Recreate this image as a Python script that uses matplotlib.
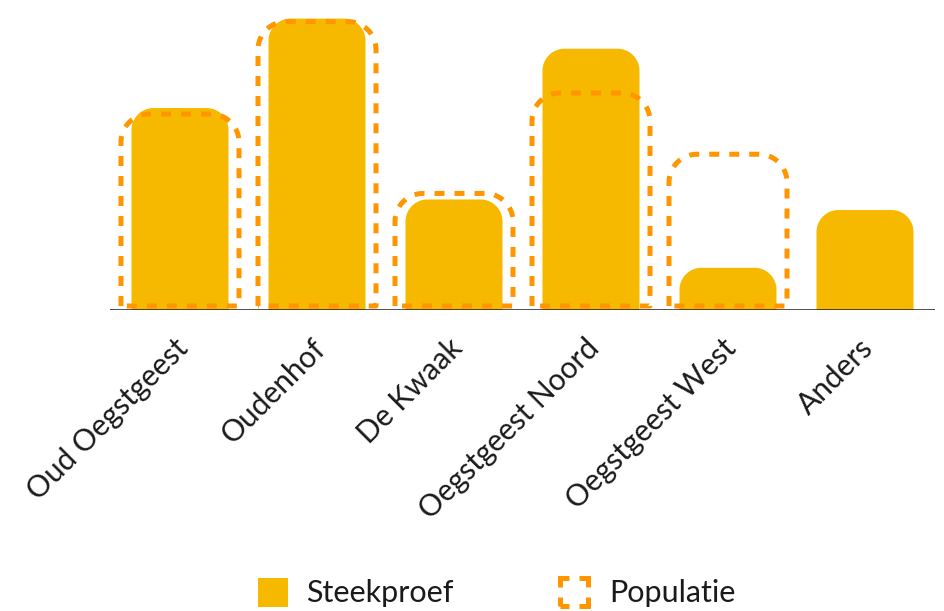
import numpy as np
import matplotlib
matplotlib.use('Agg')
import matplotlib.pyplot as plt
from matplotlib.patches import Polygon, Rectangle

# -------------------------------
# Data (percentages)
# -------------------------------
categories = ['Oud Oegstgeest', 'Oudenhof', 'De Kwaak',
              'Oegstgeest Noord', 'Oegstgeest West', 'Anders']
steekproef = [20.1, 29.0, 11.0, 26.0, 4.2, 9.95]
populatie = [19.5, 28.7, 11.6, 21.6, 15.5, 0]

FILL = '#F7B900'
DASH = '#FF9600'

plt.rcParams['font.family'] = ['Lato', 'DejaVu Sans']
plt.rcParams['lines.scale_dashes'] = False

W, H, DPI = 945, 611, 100
fig = plt.figure(figsize=(W / DPI, H / DPI), dpi=DPI)

# axes in pixel terms: left 110, right 935, baseline at 310 from top
ax_left, ax_right, base_y = 110, 935, 310
ax = fig.add_axes([ax_left / W, (H - base_y) / H, (ax_right - ax_left) / W, base_y / H])
ymax = 30.85
ax.set_xlim(-0.511, 5.511)
ax.set_ylim(0, ymax)
ax.axis('off')

# pixel per data unit, used to keep corners round
px_x = (ax_right - ax_left) / (5.511 + 0.511)
px_y = base_y / ymax


def rounded_top(xc, w, h, r_px, y0=0.0):
    """Outline points of a bar with rounded top corners"""
    rx = r_px / px_x
    ry = min(r_px / px_y, (h - y0))
    x0, x1 = xc - w / 2, xc + w / 2
    t = np.linspace(0, np.pi / 2, 20)
    left = np.column_stack([x0 + rx - rx * np.cos(t), h - ry + ry * np.sin(t)])
    right = np.column_stack([x1 - rx + rx * np.sin(t), h - ry + ry * np.cos(t)])
    pts = np.vstack([[x0, y0], left, right, [x1, y0]])
    return pts


x = np.arange(len(categories))
fill_w = 97 / px_x
dash_w = 118 / px_x

for xi, v in zip(x, steekproef):
    if v > 0:
        ax.add_patch(Polygon(rounded_top(xi, fill_w, v, 22), closed=True,
                             facecolor=FILL, edgecolor='none', zorder=2))

bottom_off = 4 / px_y
for xi, v in zip(x, populatie):
    if v > 0:
        pts = rounded_top(xi, dash_w, v, 28, y0=bottom_off)
        pts = np.vstack([pts, pts[:1]])
        ax.plot(pts[:, 0], pts[:, 1], color=DASH, lw=3.6,
                linestyle=(0, (7.2, 7.2)), solid_capstyle='butt',
                dash_capstyle='butt', zorder=3)

ax.axhline(0, color='#1a1a1a', lw=1.8, zorder=4)

# category labels
for xi, label in zip(x, categories):
    ax.annotate(label, xy=(xi, 0), xytext=(-6, -24), textcoords='offset pixels',
                rotation=45, ha='right', va='top', rotation_mode='anchor',
                fontsize=21.5, color='#1a1a1a')

# legend
fig.patches.append(Rectangle((258 / W, 1 - 607 / H), 30 / W, 29 / H,
                             transform=fig.transFigure, facecolor=FILL,
                             edgecolor='none'))
fig.text(306 / W, 1 - 593 / H, 'Steekproef', fontsize=22, va='center',
         ha='left', color='#1a1a1a')
fig.patches.append(Rectangle((560 / W, 1 - 606 / H), 28 / W, 28 / H,
                             transform=fig.transFigure, facecolor='none',
                             edgecolor=DASH, lw=3.6,
                             linestyle=(6.48, (12.96, 7.2))))
fig.text(609 / W, 1 - 593 / H, 'Populatie', fontsize=22, va='center',
         ha='left', color='#1a1a1a')

fig.savefig('out.png', dpi=DPI)
